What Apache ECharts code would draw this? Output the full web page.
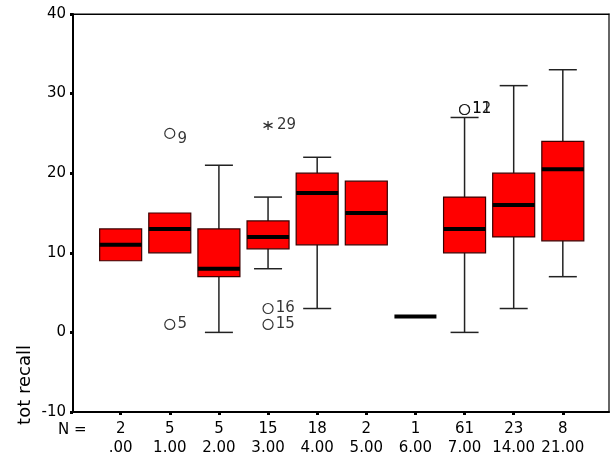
<!DOCTYPE html>
<html>
<head>
<meta charset="utf-8">
<script src="https://cdn.jsdelivr.net/npm/echarts@6/dist/echarts.min.js"></script>
<style>
  html, body { margin: 0; padding: 0; background: #fff; }
  #chart { width: 613px; height: 460px; }
</style>
</head>
<body>
<div id="chart"></div>
<script>
// groups and counts
var categories = ['.00', '1.00', '2.00', '3.00', '4.00', '5.00', '6.00', '7.00', '14.00', '21.00'];
var counts = [2, 5, 5, 15, 18, 2, 1, 61, 23, 8];
// [low whisker, q1, median, q3, high whisker]
var boxes = [
  [9, 9, 11, 13, 13],
  [10, 10, 13, 15, 15],
  [0, 7, 8, 13, 21],
  [8, 10.5, 12, 14, 17],
  [3, 11, 17.5, 20, 22],
  [11, 11, 15, 19, 19],
  [2, 2, 2, 2, 2],
  [0, 10, 13, 17, 27],
  [3, 12, 16, 20, 31],
  [7, 11.5, 20.5, 24, 33]
];
// outliers (circle) and extremes (star)
var outGroup = [1, 1, 3, 3, 7, 7];
var outValue = [25, 1, 3, 1, 28, 28];
var outLabel = ['9', '5', '16', '15', '11', '12'];
var extGroup = [3];
var extValue = [26];
var extLabel = ['29'];
var yTicks = [-10, 0, 10, 20, 30, 40];

var FONT = 'DejaVu Sans, Verdana, sans-serif';
var chart = echarts.init(document.getElementById('chart'));

var boxData = boxes.map(function (b, i) { return [i].concat(b); });

function renderBox(params, api) {
  var x = api.value(0);
  var lo = api.coord([x, api.value(1)]);
  var q1 = api.coord([x, api.value(2)]);
  var md = api.coord([x, api.value(3)]);
  var q3 = api.coord([x, api.value(4)]);
  var hi = api.coord([x, api.value(5)]);
  var band = api.size([1, 0])[0];
  var bw = band * 0.855;
  var cw = band * 0.57;
  var cx = lo[0];
  var kids = [];
  var wStyle = { stroke: '#222', lineWidth: 1.5 };
  if (api.value(5) > api.value(4)) {
    kids.push({ type: 'line', shape: { x1: cx, y1: q3[1], x2: cx, y2: hi[1] }, style: wStyle });
    kids.push({ type: 'line', shape: { x1: cx - cw / 2, y1: hi[1], x2: cx + cw / 2, y2: hi[1] }, style: wStyle });
  }
  if (api.value(1) < api.value(2)) {
    kids.push({ type: 'line', shape: { x1: cx, y1: q1[1], x2: cx, y2: lo[1] }, style: wStyle });
    kids.push({ type: 'line', shape: { x1: cx - cw / 2, y1: lo[1], x2: cx + cw / 2, y2: lo[1] }, style: wStyle });
  }
  if (api.value(4) > api.value(2)) {
    kids.push({
      type: 'rect',
      shape: { x: cx - bw / 2, y: q3[1], width: bw, height: q1[1] - q3[1] },
      style: { fill: '#ff0000', stroke: '#3a0000', lineWidth: 1.2 }
    });
  }
  kids.push({
    type: 'line',
    shape: { x1: cx - bw / 2, y1: md[1], x2: cx + bw / 2, y2: md[1] },
    style: { stroke: '#000', lineWidth: 4 }
  });
  return { type: 'group', children: kids };
}

var outData = outGroup.map(function (g, i) {
  var d = { value: [g, outValue[i]], name: outLabel[i] };
  // the case label of the upper outlier sits a little low in the original
  if (outLabel[i] === '9') d.label = { offset: [0, 6] };
  return d;
});
var extData = extGroup.map(function (g, i) { return { value: [g, extValue[i]], name: extLabel[i] }; });

var option = {
  animation: false,
  backgroundColor: '#fff',
  textStyle: { fontFamily: FONT },
  grid: {
    left: 73, right: 4, top: 14, bottom: 48,
    show: true, borderColor: '#000', borderWidth: 1
  },
  xAxis: [{
    type: 'value',
    min: -0.97,
    max: 9.94,
    splitLine: { show: false },
    axisLine: { show: true, onZero: false, lineStyle: { color: '#000', width: 2 } },
    axisTick: {
      show: true, customValues: categories.map(function (c, i) { return i; }),
      length: 3, lineStyle: { color: '#000', width: 3 }
    },
    axisLabel: {
      customValues: categories.map(function (c, i) { return i; }),
      color: '#000', fontSize: 15, fontFamily: FONT, lineHeight: 19, margin: 8,
      formatter: function (v) { return counts[v] + '\n' + categories[v]; }
    }
  }, {
    type: 'value', position: 'top', min: -0.97, max: 9.94,
    axisLine: { show: true, onZero: false, lineStyle: { color: '#000', width: 1 } },
    axisTick: { show: false }, axisLabel: { show: false }, splitLine: { show: false }
  }],
  yAxis: [{
    type: 'value',
    min: -10,
    max: 40,
    interval: 10,
    splitLine: { show: false },
    axisLine: { show: true, onZero: false, lineStyle: { color: '#000', width: 2 } },
    axisTick: { show: true, length: 3, lineStyle: { color: '#000', width: 3 } },
    axisLabel: { color: '#000', fontSize: 15, fontFamily: FONT, margin: 7 }
  }, {
    type: 'value', position: 'right', min: -10, max: 40,
    axisLine: { show: true, onZero: false, lineStyle: { color: '#666', width: 2 } },
    axisTick: { show: false }, axisLabel: { show: false }, splitLine: { show: false }
  }],
  graphic: [{
    type: 'text',
    x: 25, y: 385,
    rotation: Math.PI / 2,
    style: {
      text: 'tot recall', fill: '#000', fontSize: 18, fontFamily: FONT,
      align: 'center', verticalAlign: 'middle'
    }
  }, {
    type: 'text',
    x: 58, y: 430,
    style: {
      text: 'N =', fill: '#000', fontSize: 15, fontFamily: FONT,
      align: 'left', verticalAlign: 'middle'
    }
  }],
  series: [{
    type: 'custom',
    renderItem: renderBox,
    data: boxData,
    encode: { x: 0, y: [1, 2, 3, 4, 5] },
    z: 2
  }, {
    type: 'scatter',
    data: outData,
    symbol: 'circle',
    symbolSize: 10,
    itemStyle: { color: '#fff', borderColor: '#000', borderWidth: 1.2 },
    label: {
      show: true, position: 'right', distance: 2,
      color: '#000', fontSize: 15, fontFamily: FONT,
      formatter: '{b}'
    },
    z: 3
  }, {
    type: 'scatter',
    data: extData,
    symbol: 'path://M0,-1L0,1M-0.87,-0.5L0.87,0.5M-0.87,0.5L0.87,-0.5',
    symbolSize: 9,
    itemStyle: { color: 'none', borderColor: '#000', borderWidth: 1.3 },
    label: {
      show: true, position: 'right', distance: 2,
      color: '#000', fontSize: 15, fontFamily: FONT,
      formatter: '{b}'
    },
    z: 3
  }]
};

chart.setOption(option);
</script>
</body>
</html>
